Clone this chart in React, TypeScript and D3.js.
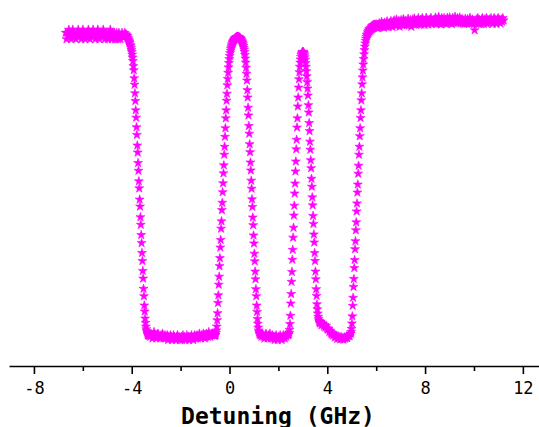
import React, { useEffect, useRef } from "react";
import * as d3 from "d3";

// Probe transmission (%) across the scan, stored as segments of evenly spaced samples.
// Flat regions are stored at a coarser step than the steep edges.

const leftPlateau = [
  96, 94, 96, 95, 97, 96, 95, 94, 96, 97, 95, 96, 95, 94, 96,
  95, 97, 96, 95, 96, 94, 95, 97, 96, 95, 94, 96, 95, 96, 97, 95, 94, 96, 95, 96,
  97, 95, 96, 94, 95, 96, 97, 95, 94, 96, 95, 96, 95, 97, 96, 94, 95, 96, 95, 94,
  96, 95, 97, 95, 94, 96, 95, 96, 94, 95, 96, 95, 94, 96, 95, 94, 95, 96, 95, 95,
];

const fallingEdge = [
  95, 96, 95, 95.5, 95, 95.5, 95, 94.5, 95, 94.4,
  94, 93.7, 93.4, 93.1, 92.8, 92.2, 91.9, 91.3, 90.6, 90,
  89.2, 88.3, 87.2, 85.6, 84.3, 81.8, 79.8, 77.1, 74.7, 71.8,
  69.5, 66.5, 64.1, 60.8, 58.6, 55.3, 52.9, 49.6, 47.4, 43.9,
  41.7, 38.4, 36, 32.8, 30.3, 27.2, 24.7, 21.6, 19.2, 16,
  13.7, 10.8, 8.9, 6.7, 5.4, 4.2, 3.4, 2.8, 2.4, 2,
  1.7, 1.5, 1.3,
];

const firstDip = [
  1.5, 1, 2, 1.5, 0.5, 1.5, 2.5, 1, 1.5, 0.5, 1, 2, 1.5, 1, 0.5, 1.5, 1, 2, 0.5, 1,
  1.5, 0.5, 1, 1.5, 0, 1, 0.5, 1.5, 1, 0, 0.5, 1.5, 1, 0.5, 0, 1, 1.5, 0.5, 1, 0,
  0.5, 1, 0, 1.5, 0.5, 1, 0, 0.5, 1.5, 0.5, 1, 0, 1, 0.5, 1.5, 0.5, 0, 1, 1.5, 0.5,
  1, 1.5, 0.5, 1, 2, 1, 0.5, 1.5, 1, 2, 1.5, 0.5, 1, 2, 1.5, 1, 2.5, 1.5, 1, 2,
  1.5, 2, 1.5, 2,
];

const centralPeak = [
  1.3, 1.4, 1.7, 2.2, 3, 4.2,
  6.2, 8.4, 11.6, 14, 17.3, 19.8, 23.1, 25.6, 28.9, 31.3,
  34.8, 37.1, 40.6, 42.9, 46.2, 49, 52.1, 54.6, 57.9, 60.4,
  63.5, 66.2, 69.3, 71.8, 74.8, 77, 79.6,
  81.6, 83.5, 85.2, 86.6, 87.8, 88.8, 89.7, 90.4, 91, 91.5,
  92, 92.4, 92.8, 93.1, 93.4, 93.6, 93.8, 94, 94.2, 94.3,
  94.4, 94.5, 94.6, 94.7, 94.7, 94.8, 94.8, 94.7, 94.7, 94.6,
  94.5, 94.4, 94.3, 94.1, 93.9, 93.7, 93.4, 93.1, 92.8, 92.4,
  91.9, 91.4, 90.8, 90, 89.1, 88, 86.7, 85.1, 83.2,
  81.1, 78.1, 75.8, 72.6, 70.2, 66.9, 64.5, 61.2, 58.7, 55.5,
  53, 49.8, 47.3, 44, 41.6, 38.3, 35.9, 32.7, 30.2, 27,
  24.6, 21.4, 19, 15.9, 13.7, 10.8, 8.8, 6.6, 5.1, 3.9,
  3, 2.4, 2, 1.7,
];

const secondDip = [
  1.5, 1, 2, 1.5, 1, 0.5, 1.5, 2, 1, 0.5, 1.5, 1, 2, 0.5, 1, 1.5, 0.5, 1,
  0, 1, 1.5, 0.5, 0, 1, 0.5, 1.5, 1, 0, 0.5, 1.5, 1, 0.5, 1.5, 1, 2, 1.5,
];

const sidePeak = [
  1.6, 1.8, 2.3, 3.2,
  5, 7.6, 11.4, 14.4, 18.2, 21.3, 25.1, 28.2, 32, 35.1, 38.9,
  42, 45.8, 48.9, 52.7, 55.8, 59.6, 62.6, 66.4, 69.3, 73, 75.8,
  78.9, 81.5, 83.7, 85.4, 86.7, 87.7, 88.5, 89.1, 89.5, 89.8,
  90, 90.1, 90, 89.8, 89.5, 89, 88.4, 87.6, 86.6, 85.4,
  84, 82.4, 80.6, 78.6,
  76.4, 73.4, 71.1, 67.8, 65.3, 62, 59.5, 56.2, 53.7, 50.4,
  47.9, 44.6, 42.1, 38.8, 36.3, 33, 30.5, 27.2, 24.7, 21.4,
  19, 15.9, 13.8, 11.2,
  9.6, 8.3, 7.3, 6.6, 6.1, 5.7, 5.4, 5.2,
];

const thirdDip = [
  5.8, 4.6, 5.1, 4.9, 4.2, 4.7, 3.9, 4.5, 3.6, 3.2,
  3.6, 2.5, 2.9, 2.2, 1.7, 2.3, 1.4, 1.9, 0.8, 1.4,
  1.1, 0.4, 1.2, 0.5, 0.9, 0.2, 1, 0.3, 0.6, 0.1,
  0.9, 0.4, 0.7, 1.1, 0.6, 1.3, 1.5, 1.2, 2,
];

const risingEdge = [
  2, 2.6, 3.5,
  5.2, 7.4, 10.7, 13.2, 16.6, 19.1, 22.5, 25, 28.4, 30.9,
  34.3, 36.8, 40.2, 42.7, 46.1, 48.6, 52, 54.5, 57.9, 60.4,
  63.7, 66.2, 69.4, 71.8, 74.9, 77.1, 79.9,
  82.1, 84.2, 86.1, 87.8, 89.3, 90.6, 91.7, 92.7, 93.5, 94.2,
  94.8, 95.3, 95.4, 96.2, 95.6, 96.7, 96, 97.1, 96.4, 97.3,
  96.7, 97.6, 97, 98, 97.2, 98.2, 97.4, 98.4, 97.6, 98.5,
  97.7, 98.6, 97.8, 98.5, 98, 98.7, 98.1, 97.5,
];

const rightPlateau = [
  98.5, 97.5, 99, 97.8, 98.6, 99.4, 97.9, 98.8, 97.6, 99.2, 98.4, 97.9, 99.6, 98.3, 97.8, 99.1, 98.5, 99.7,
  98.9, 97.8, 98.7, 99.9, 98.8, 98.2, 100.2, 98.4, 99.1, 99.8, 97.9, 99.2, 100, 98.5, 99.1, 100.3, 98.4, 99.3,
  99.8, 98.4, 99.2, 100.4, 98.5, 99.3, 100, 97.9, 99.1, 100.2, 98.6, 100.5, 99.1, 98.5, 99.9, 99.2, 100.6, 98.6,
  99.2, 100.1, 98.6, 100.6, 99.1, 99.9, 98.5, 99.3, 100.7, 99.1, 99.9, 98.6, 100.1, 99.2, 100.7, 98.7, 99.8, 99.3,
  100, 99.1, 100.8, 98.7, 99.9, 99.2, 101, 98.9, 99.8, 98.6, 100.6, 99.1, 99.9, 100.6, 99, 100.1, 98.7, 100.7,
  99.2, 100, 100.8, 99.1, 100, 98.7, 100.7, 99.8, 99.2, 101, 99.9, 99.1, 100.6, 99.2, 100.1, 100.8, 99.1, 100,
  100.3, 98.9, 99.7, 98.8, 100.4, 99.6, 98.9, 100.3, 99.6, 98.9, 100.7, 99.5, 98.9, 100.2, 99.6, 98.8, 96.8, 99,
  100.2, 99.4, 100.6, 98.8, 100.1, 99.5, 98.7, 100.2, 100.6, 99.4, 98.8, 100.2, 99.5, 100.6, 98.8, 100.1, 99.4, 100.2,
  99.5, 100.6, 99.4, 98.8, 100.2, 100.6, 99.5, 100.1, 98.8, 100.2, 100.6, 99.4, 100.1, 98.9, 100.2, 99.5, 100.6, 99.9,
];

// First detuning (GHz) and sample spacing (GHz) of each segment
const segmentStart = [-6.7, -4.3, -3.28, -0.6, 1.27, 2.41, 3.73, 4.96, 6.06];
const segmentStep = [0.032, 0.016, 0.032, 0.016, 0.032, 0.016, 0.032, 0.016, 0.032];
const segmentValues = [
  leftPlateau, fallingEdge, firstDip, centralPeak, secondDip,
  sidePeak, thirdDip, risingEdge, rightPlateau,
];

const majorTicks = [-8, -4, 0, 4, 8, 12];
const minorTicks = [-6, -2, 2, 6, 10];
const xTitle = "Detuning (GHz)";

const WIDTH = 539;
const HEIGHT = 427;
const AXIS_Y = 366;
const MARKER = "#ff00ff";
const FONT = "'DejaVu Sans Mono', monospace";

type Sample = { ghz: number; value: number };

const samples: Sample[] = segmentValues.flatMap((vals, s) =>
  vals.map((value, i) => ({ ghz: segmentStart[s] + i * segmentStep[s], value }))
);

export default function App() {
  const axisRef = useRef<SVGGElement>(null);

  const x = d3.scaleLinear().domain([-9.02, 12.66]).range([9, 539]);
  const y = d3.scaleLinear().domain([0, 100]).range([340, 20]);
  const star = d3.symbol(d3.symbolStar, 25)() as string;

  useEffect(() => {
    if (!axisRef.current) return;
    const g = d3.select(axisRef.current);
    g.selectAll("*").remove();

    const minor = g.append("g");
    minor.call(
      d3.axisBottom(x).tickValues(minorTicks).tickSize(5).tickSizeOuter(0).tickFormat(() => "")
    );
    minor.select(".domain").remove();

    const major = g.append("g");
    major.call(
      d3
        .axisBottom(x)
        .tickValues(majorTicks)
        .tickSize(8)
        .tickSizeOuter(0)
        .tickPadding(8)
        .tickFormat((d) => String(d))
    );
    g.selectAll("path, line").attr("stroke", "#000").attr("stroke-width", 1.6);
    g.selectAll("text")
      .attr("font-family", FONT)
      .attr("font-size", 17)
      .attr("fill", "#000");
  }, []);

  return (
    <svg
      width={WIDTH}
      height={HEIGHT}
      style={{ position: "fixed", left: 0, top: 0, background: "#fff" }}
    >
      <rect width={WIDTH} height={HEIGHT} fill="#fff" />
      <g>
        {samples.map((p, i) => (
          <path
            key={i}
            d={star}
            transform={`translate(${x(p.ghz)},${y(p.value)})`}
            fill={MARKER}
            stroke={MARKER}
            strokeWidth={0.6}
          />
        ))}
      </g>
      <g ref={axisRef} transform={`translate(0,${AXIS_Y})`} />
      <text
        x={278}
        y={424}
        textAnchor="middle"
        fontFamily={FONT}
        fontWeight="bold"
        fontSize={23}
        fill="#000"
      >
        {xTitle}
      </text>
    </svg>
  );
}
